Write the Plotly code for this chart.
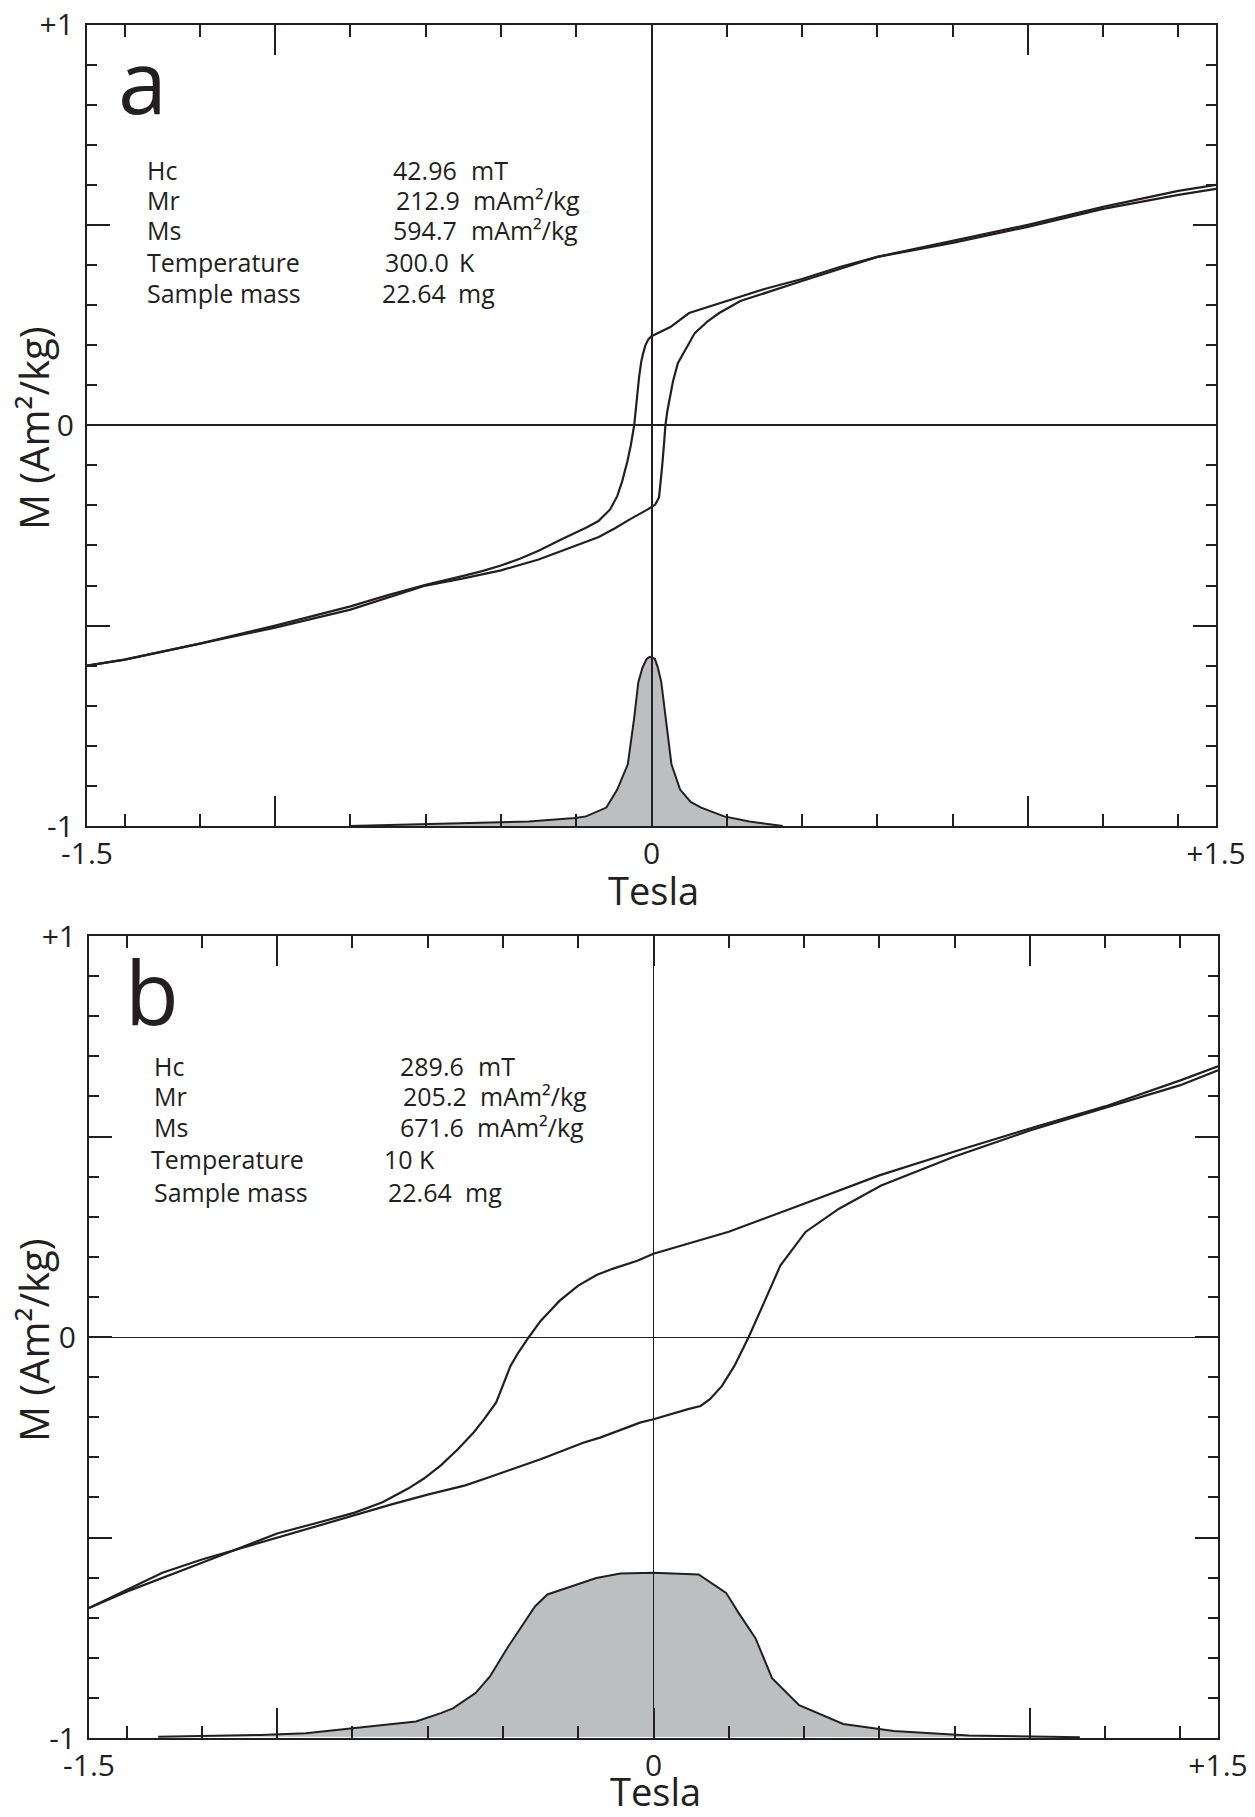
import plotly.graph_objects as go

# ---------------- data ----------------
# Panel a, 300 K: descending branch (field from +1.5 T down to -1.5 T)
H_a_desc = [1.5, 1.4, 1.2, 1.0, 0.8, 0.6, 0.5, 0.4, 0.3, 0.2, 0.1, 0.05, 0.0,
            -0.008, -0.016, -0.022, -0.027, -0.033, -0.04, -0.046, -0.055, -0.064,
            -0.078, -0.091, -0.11, -0.141, -0.17, -0.2, -0.24, -0.3, -0.35, -0.4, -0.45,
            -0.5, -0.6, -0.7, -0.8, -1.0, -1.2, -1.4, -1.5]
M_a_desc = [0.60, 0.585, 0.545, 0.50, 0.46, 0.42, 0.395, 0.365, 0.34, 0.31, 0.28, 0.245, 0.222,
            0.215, 0.20, 0.18, 0.16, 0.12, 0.06, 0.0, -0.05, -0.09,
            -0.14, -0.177, -0.21, -0.239, -0.254, -0.267, -0.285, -0.313, -0.333, -0.35, -0.364,
            -0.376, -0.398, -0.424, -0.452, -0.50, -0.545, -0.585, -0.60]
# Panel a: ascending branch (field from -1.5 T up to +1.5 T)
H_a_asc = [-1.5, -1.4, -1.2, -1.0, -0.8, -0.6, -0.5, -0.4, -0.3, -0.2, -0.14, -0.097, -0.06,
           -0.01, 0.01, 0.02, 0.024, 0.028, 0.033, 0.037, 0.042, 0.047, 0.057, 0.07,
           0.09, 0.115, 0.15, 0.18, 0.236, 0.3, 0.4, 0.5, 0.6, 0.8, 1.0, 1.2, 1.4, 1.5]
M_a_asc = [-0.60, -0.585, -0.545, -0.505, -0.46, -0.40, -0.382, -0.362, -0.335, -0.30, -0.279,
           -0.257, -0.236, -0.21, -0.198, -0.18, -0.15, -0.105, -0.05, 0.0, 0.035, 0.06, 0.109,
           0.155, 0.19, 0.23, 0.26, 0.28, 0.31, 0.33, 0.36, 0.39, 0.42, 0.455, 0.495, 0.54,
           0.575, 0.59]
# Panel a: coercivity distribution (drawn on the same axes, baseline at -1)
H_a_sfd = [-0.804, -0.543, -0.326, -0.203, -0.174, -0.12, -0.091, -0.063, -0.046, -0.035,
           -0.024, -0.013, -0.005, 0.009, 0.017, 0.026, 0.037, 0.053, 0.076, 0.104, 0.132,
           0.193, 0.26, 0.349]
M_a_sfd = [-1.0, -0.994, -0.989, -0.98, -0.976, -0.954, -0.909, -0.846, -0.73, -0.641,
           -0.605, -0.583, -0.578, -0.583, -0.605, -0.641, -0.73, -0.846, -0.909, -0.94, -0.954,
           -0.976, -0.989, -1.0]

# Panel b, 10 K: descending branch
H_b_desc = [1.5, 1.4, 1.2, 1.0, 0.8, 0.6, 0.4, 0.2, 0.0, -0.043, -0.109, -0.15, -0.2, -0.229,
            -0.25, -0.27, -0.3, -0.331, -0.36, -0.38, -0.4, -0.418, -0.45, -0.478, -0.52,
            -0.565, -0.61, -0.652, -0.72, -0.794, -0.9, -1.0, -1.2, -1.4, -1.5]
M_b_desc = [0.675, 0.64, 0.575, 0.52, 0.4625, 0.403, 0.3325, 0.2625, 0.2075, 0.19, 0.17, 0.155,
            0.128, 0.105, 0.09, 0.07, 0.04, 0.0, -0.04, -0.072, -0.12, -0.163, -0.205, -0.238,
            -0.28, -0.32, -0.353, -0.378, -0.412, -0.438, -0.465, -0.49, -0.563, -0.635, -0.676]
# Panel b: ascending branch
H_b_asc = [-1.5, -1.305, -1.2, -1.0, -0.8, -0.696, -0.6, -0.5, -0.435, -0.3, -0.185, -0.142,
           -0.034, 0.0, 0.092, 0.125, 0.15, 0.182, 0.215, 0.253, 0.298, 0.337, 0.404, 0.493,
           0.605, 0.8, 1.0, 1.2, 1.4, 1.5]
M_b_asc = [-0.676, -0.588, -0.555, -0.50, -0.445, -0.4175, -0.393, -0.37, -0.349, -0.305,
           -0.263, -0.251, -0.213, -0.205, -0.18, -0.172, -0.155, -0.122, -0.072, 0.0, 0.095,
           0.178, 0.262, 0.32, 0.378, 0.45, 0.515, 0.572, 0.628, 0.665]
# Panel b: coercivity distribution
H_b_sfd = [-1.316, -1.044, -0.924, -0.804, -0.707, -0.631, -0.565, -0.533, -0.473, -0.435,
           -0.386, -0.315, -0.282, -0.152, -0.088, 0.0, 0.12, 0.193, 0.226, 0.271, 0.315,
           0.387, 0.504, 0.638, 0.838, 1.133]
M_b_sfd = [-0.997, -0.9925, -0.988, -0.976, -0.968, -0.959, -0.938, -0.926, -0.888, -0.847,
           -0.772, -0.672, -0.642, -0.601, -0.59, -0.588, -0.592, -0.638, -0.688, -0.751,
           -0.851, -0.918, -0.965, -0.9825, -0.994, -0.998]

# Tick values and labels
x_major = [-1.5, -1.0, 0.0, 1.0, 1.5]
x_major_text = ["-1.5", "", "0", "", "+1.5"]
x_minor = [-1.4, -1.2, -0.8, -0.6, -0.4, -0.2, 0.2, 0.4, 0.6, 0.8, 1.2, 1.4]
y_major = [-1.0, -0.5, 0.0, 0.5, 1.0]
y_major_text = ["-1", "", "0", "", "+1"]
y_minor = [-0.9, -0.8, -0.7, -0.6, -0.4, -0.3, -0.2, -0.1,
           0.1, 0.2, 0.3, 0.4, 0.6, 0.7, 0.8, 0.9]

# Parameter text
labels = ["Hc", "Mr", "Ms", "Temperature", "Sample mass"]
values_a = ["42.96", "212.9", "594.7", "300.0", "22.64"]
units_a = ["mT", "mAm²/kg", "mAm²/kg", "K", "mg"]
values_b = ["289.6", "205.2", "671.6", "10 K", "22.64"]
units_b = ["mT", "mAm²/kg", "mAm²/kg", "", "mg"]

# ---------------- styling ----------------
W, H = 1255, 1817
INK = "#231f20"
FILL = "#bcbec0"
FONT = "Open Sans"


def px(x):
    return x / W


def py(y):
    return 1 - y / H


fig = go.Figure()

# SFD first (under the loops)
fig.add_trace(go.Scatter(x=H_a_sfd, y=M_a_sfd, mode="lines", fill="toself", fillcolor=FILL,
                         line=dict(color=INK, width=2), xaxis="x", yaxis="y", hoverinfo="skip"))
fig.add_trace(go.Scatter(x=H_a_desc, y=M_a_desc, mode="lines",
                         line=dict(color=INK, width=2.2), xaxis="x", yaxis="y"))
fig.add_trace(go.Scatter(x=H_a_asc, y=M_a_asc, mode="lines",
                         line=dict(color=INK, width=2.2), xaxis="x", yaxis="y"))

fig.add_trace(go.Scatter(x=H_b_sfd, y=M_b_sfd, mode="lines", fill="toself", fillcolor=FILL,
                         line=dict(color=INK, width=2), xaxis="x2", yaxis="y2", hoverinfo="skip"))
fig.add_trace(go.Scatter(x=H_b_desc, y=M_b_desc, mode="lines",
                         line=dict(color=INK, width=2.2), xaxis="x2", yaxis="y2"))
fig.add_trace(go.Scatter(x=H_b_asc, y=M_b_asc, mode="lines",
                         line=dict(color=INK, width=2.2), xaxis="x2", yaxis="y2"))


def xaxis_style(domain, anchor, lw, zw):
    return dict(domain=domain, anchor=anchor, range=[-1.5, 1.5], showgrid=False,
                automargin=False,
                showline=True, linecolor=INK, linewidth=lw, mirror="ticks",
                ticks="inside", ticklen=30, tickwidth=2, tickcolor=INK,
                tickmode="array", tickvals=x_major, ticktext=x_major_text,
                tickfont=dict(family=FONT, size=30, color=INK), ticklabelstandoff=0,
                minor=dict(tickmode="array", tickvals=x_minor, ticks="inside", ticklen=12,
                           tickwidth=2, tickcolor=INK),
                zeroline=True, zerolinecolor=INK, zerolinewidth=zw,
                layer="above traces", zerolinelayer="above traces", fixedrange=True)


def yaxis_style(domain, anchor, lw, zw):
    return dict(domain=domain, anchor=anchor, range=[-1, 1], showgrid=False,
                automargin=False,
                showline=True, linecolor=INK, linewidth=lw, mirror="ticks",
                ticks="inside", ticklen=23, tickwidth=2, tickcolor=INK,
                tickmode="array", tickvals=y_major, ticktext=y_major_text,
                tickfont=dict(family=FONT, size=30, color=INK), ticklabelstandoff=5,
                minor=dict(tickmode="array", tickvals=y_minor, ticks="inside", ticklen=10,
                           tickwidth=2, tickcolor=INK),
                zeroline=True, zerolinecolor=INK, zerolinewidth=zw,
                layer="above traces", zerolinelayer="above traces", fixedrange=True)


fig.update_layout(
    width=W, height=H, margin=dict(l=0, r=0, t=0, b=0, pad=0, autoexpand=False),
    paper_bgcolor="white", plot_bgcolor="white", showlegend=False,
    font=dict(family=FONT, color=INK),
    xaxis=xaxis_style([px(87), px(1216)], "y", 2.4, 2),
    yaxis=yaxis_style([py(826), py(24.5)], "x", 2.4, 2.4),
    xaxis2=xaxis_style([px(89), px(1218)], "y2", 2, 1.3),
    yaxis2=yaxis_style([py(1738), py(936)], "x2", 2, 1.3),
)

ann = []
# panel letters
ann.append(dict(text="a", x=px(116), y=py(80), xanchor="left", yanchor="middle",
                font=dict(family=FONT, size=88, color=INK)))
ann.append(dict(text="b", x=px(123), y=py(991), xanchor="left", yanchor="middle",
                font=dict(family=FONT, size=88, color=INK)))

# parameter blocks
rows_a = [170, 200, 230, 262, 293]
lab_x_a = [145, 145, 145, 145, 145]
val_x_a = [391, 394, 391, 383, 380]
unit_x_a = [469, 471, 469, 457, 456]
rows_b = [1066, 1096, 1127, 1159, 1192]
lab_x_b = [152, 152, 152, 149, 152]
val_x_b = [398, 401, 398, 382, 386]
unit_x_b = [476, 478, 475, 0, 463]

for i in range(5):
    for txt, xx, yy in [(labels[i], lab_x_a[i], rows_a[i]),
                        (values_a[i], val_x_a[i], rows_a[i]),
                        (units_a[i], unit_x_a[i], rows_a[i]),
                        (labels[i], lab_x_b[i], rows_b[i]),
                        (values_b[i], val_x_b[i], rows_b[i]),
                        (units_b[i], unit_x_b[i], rows_b[i])]:
        if txt:
            ann.append(dict(text=txt, x=px(xx), y=py(yy), xanchor="left", yanchor="middle",
                            font=dict(family=FONT, size=25, color=INK)))

# axis titles
for cy in [428, 1340]:
    ann.append(dict(text="M (Am²/kg)", x=px(33), y=py(cy), xanchor="center", yanchor="middle",
                    textangle=-90, font=dict(family=FONT, size=40, color=INK)))
for cx, cy in [(653, 890), (655, 1791)]:
    ann.append(dict(text="Tesla", x=px(cx), y=py(cy), xanchor="center", yanchor="middle",
                    font=dict(family=FONT, size=38, color=INK)))

for a in ann:
    a.update(xref="paper", yref="paper", showarrow=False)
fig.update_layout(annotations=ann)

fig.write_html("out.html")
